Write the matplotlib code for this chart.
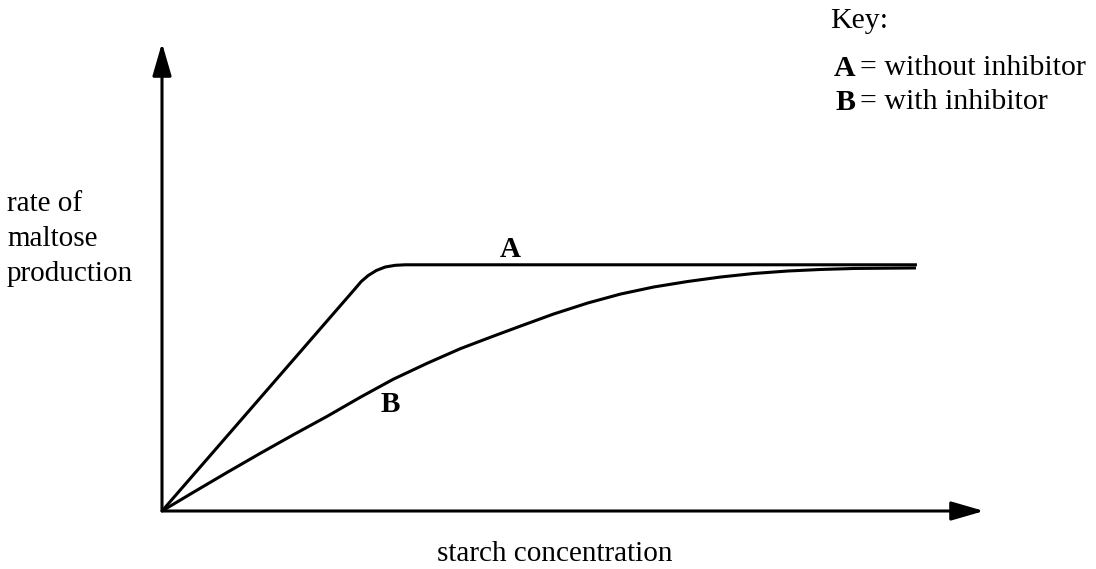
import matplotlib
matplotlib.use("Agg")
import matplotlib.pyplot as plt

plt.rcParams['font.family'] = ['Liberation Serif', 'DejaVu Serif']

# Data (arbitrary units, origin at 0,0)
a_x = [0.0, 2.351, 2.424, 2.509, 2.607, 2.716, 2.838, 2.960, 9.184]
a_y = [0.0, 4.754, 4.904, 5.032, 5.139, 5.214, 5.250, 5.261, 5.261]
b_x = [0.0, 0.378, 0.792, 1.194, 1.596, 2.010, 2.412, 2.814, 3.228, 3.630,
       4.032, 4.361, 4.762, 5.177, 5.579, 5.981, 6.395, 6.797, 7.199, 7.613,
       8.015, 8.417, 8.806, 9.172]
b_y = [0.0, 0.396, 0.824, 1.231, 1.627, 2.024, 2.430, 2.816, 3.158, 3.469,
       3.737, 3.951, 4.208, 4.443, 4.636, 4.786, 4.904, 5.000, 5.075, 5.128,
       5.161, 5.182, 5.188, 5.193]

W, H = 1096, 569
fig = plt.figure(figsize=(W / 100, H / 100), dpi=100)
ox, oy = 162, 511
tx, ty = 984, 43
ax = fig.add_axes([ox / W, (H - oy) / H, (tx - ox) / W, (oy - ty) / H])
ax.set_xlim(0, 10)
ax.set_ylim(0, 10)
ax.axis('off')

lw = 2.2
ax.plot(a_x, a_y, color='black', lw=lw, solid_capstyle='butt',
        solid_joinstyle='round', clip_on=False)
ax.plot(b_x, b_y, color='black', lw=lw, solid_capstyle='butt',
        solid_joinstyle='round', clip_on=False)

arrow = dict(arrowstyle='-|>,head_length=1.0,head_width=0.29', mutation_scale=20,
             lw=2.2, color='black', shrinkA=0, shrinkB=0)
ax.annotate('', xy=(0, 10), xytext=(0, 0), arrowprops=arrow, annotation_clip=False)
ax.annotate('', xy=(10, 0), xytext=(0, 0), arrowprops=arrow, annotation_clip=False)

fs = 21
fsk = 21.5
def fx(px):
    return px / W
def fy(py):
    return 1 - py / H

fig.text(fx(7), fy(239), 'rate of\nmaltose\nproduction', fontsize=fs,
         ha='left', va='center', linespacing=1.44)
fig.text(fx(555), fy(554), 'starch concentration', fontsize=fs, ha='center', va='center')
fig.text(fx(510), fy(250), 'A', fontsize=fs, fontweight='bold', ha='center', va='center')
fig.text(fx(390), fy(404), 'B', fontsize=fs, fontweight='bold', ha='center', va='center')

fig.text(fx(830), fy(21), 'Key:', fontsize=fsk, ha='left', va='center')
fig.text(fx(834), fy(68), 'A', fontsize=fsk, fontweight='bold', ha='left', va='center')
fig.text(fx(860), fy(68), '= without inhibitor', fontsize=fsk, ha='left', va='center')
fig.text(fx(835), fy(102), 'B', fontsize=fsk, fontweight='bold', ha='left', va='center')
fig.text(fx(860), fy(102), '= with inhibitor', fontsize=fsk, ha='left', va='center')

fig.savefig('out.png', dpi=100)
